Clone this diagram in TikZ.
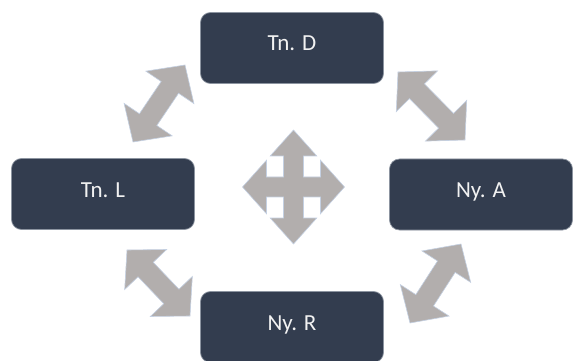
\documentclass[tikz,border=0pt]{standalone}
\usepackage{fontspec}
\setmainfont{Carlito}
\usetikzlibrary{calc}

\definecolor{boxfill}{RGB}{51,61,79}
\definecolor{boxedge}{RGB}{140,148,160}
\definecolor{arrowgrey}{RGB}{178,174,173}
\definecolor{arrowedge}{RGB}{196,208,226}
\definecolor{labeltext}{RGB}{242,242,242}

\tikzset{
  stagebox/.style={
    draw=boxedge, line width=0.7pt, fill=boxfill, rounded corners=10pt,
    minimum width=183pt, minimum height=71pt, inner sep=0pt,
    text=labeltext, font=\fontsize{23}{26}\selectfont,
    text height=12pt, text depth=6pt},
  arrowshape/.style={fill=arrowgrey, draw=arrowedge, line width=0.6pt, line join=miter}
}

% grey two-headed block arrow between two tip coordinates
\newcommand\twowayarrow[2]{%
  \coordinate (#1-h) at ($(#1)!27pt!(#2)$);
  \coordinate (#2-h) at ($(#2)!27pt!(#1)$);
  \filldraw[arrowshape] (#1)
    -- ($(#1-h)!29pt!90:(#2)$) -- ($(#1-h)!10.5pt!90:(#2)$)
    -- ($(#2-h)!10.5pt!-90:(#1)$) -- ($(#2-h)!29pt!-90:(#1)$)
    -- (#2)
    -- ($(#2-h)!29pt!90:(#1)$) -- ($(#2-h)!10.5pt!90:(#1)$)
    -- ($(#1-h)!10.5pt!-90:(#2)$) -- ($(#1-h)!29pt!-90:(#2)$)
    -- cycle;}

\begin{document}
\begin{tikzpicture}[x=1pt, y=-1pt]
  \useasboundingbox (0,0) rectangle (574,361);

  % the four stages
  \node[stagebox] (D) at (292,48)    {Tn. D};
  \node[stagebox] (L) at (103,194)   {Tn. L};
  \node[stagebox] (A) at (481,194.5) {Ny. A};
  \node[stagebox] (R) at (292,327)   {Ny. R};

  % tips of the diagonal arrows
  \coordinate (tl1) at (133,142); \coordinate (tl2) at (185,65);
  \coordinate (tr1) at (398,72);  \coordinate (tr2) at (465,140);
  \coordinate (bl1) at (127,250); \coordinate (bl2) at (190,316);
  \coordinate (br1) at (410,323); \coordinate (br2) at (461,244);

  \twowayarrow{tl1}{tl2}
  \twowayarrow{tr1}{tr2}
  \twowayarrow{bl1}{bl2}
  \twowayarrow{br1}{br2}

  % four-way arrow in the middle
  \coordinate (Q) at (293.5,187);
  \filldraw[arrowshape, shift={(Q)}]
    (0,-57) -- (23.3,-31) -- (10,-31) -- (10,-10) -- (27,-10) -- (27,-26.8)
    -- (51,0) -- (27,26.8) -- (27,10) -- (10,10) -- (10,31) -- (23.3,31)
    -- (0,57) -- (-23.3,31) -- (-10,31) -- (-10,10) -- (-27,10) -- (-27,26.8)
    -- (-51,0) -- (-27,-26.8) -- (-27,-10) -- (-10,-10) -- (-10,-31) -- (-23.3,-31)
    -- cycle;
\end{tikzpicture}
\end{document}
